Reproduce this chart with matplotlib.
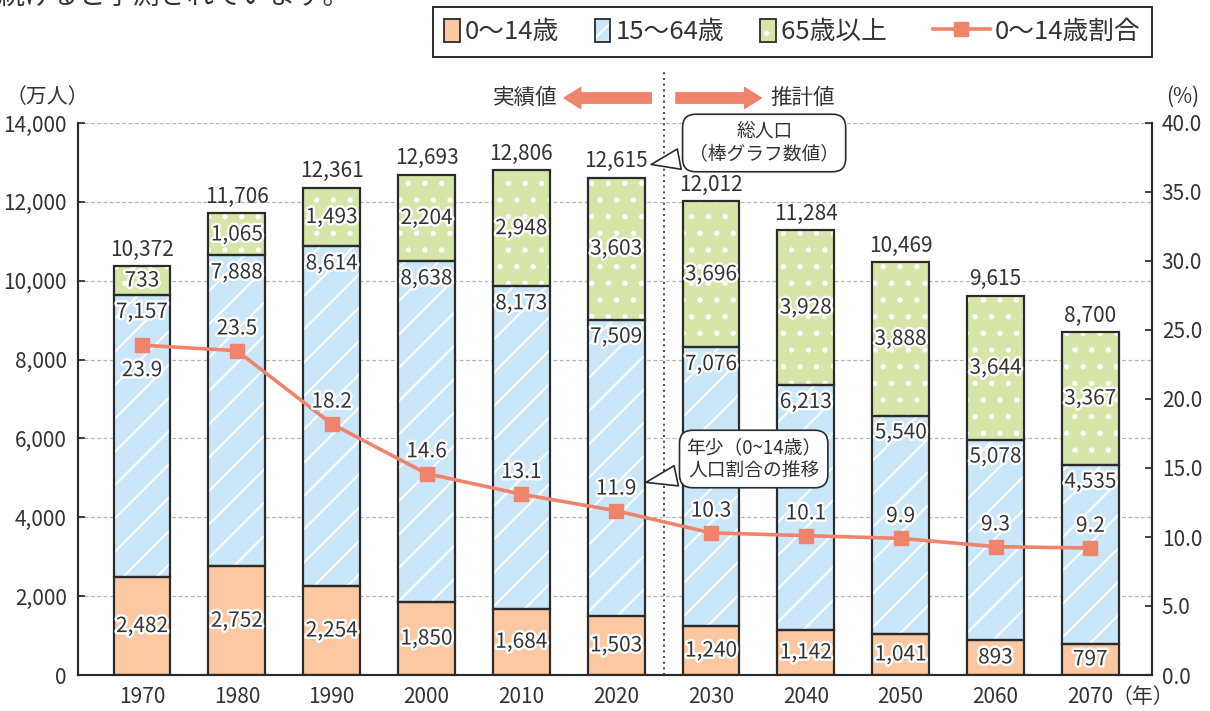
import numpy as np
import matplotlib
matplotlib.use("Agg")
import matplotlib.pyplot as plt
import matplotlib.patheffects as pe
from matplotlib.patches import Rectangle
from matplotlib.lines import Line2D
from matplotlib.legend_handler import HandlerBase

# =====================================================
# DATA
# =====================================================

years = ["1970", "1980", "1990", "2000", "2010", "2020",
         "2030", "2040", "2050", "2060", "2070"]

young = [2482, 2752, 2254, 1850, 1684, 1503, 1240, 1142, 1041, 893, 797]
working = [7157, 7888, 8614, 8638, 8173, 7509, 7076, 6213, 5540, 5078, 4535]
old = [733, 1065, 1493, 2204, 2948, 3603, 3696, 3928, 3888, 3644, 3367]
total = [10372, 11706, 12361, 12693, 12806, 12615, 12012, 11284, 10469, 9615, 8700]
young_ratio = [23.9, 23.5, 18.2, 14.6, 13.1, 11.9, 10.3, 10.1, 9.9, 9.3, 9.2]

labels = ["0～14歳", "15～64歳", "65歳以上\u3000\u3000", "0～14歳割合"]

# =====================================================
# STYLE
# =====================================================

plt.rcParams['font.family'] = ['Noto Sans CJK JP', 'DejaVu Sans']
plt.rcParams['hatch.color'] = 'white'
plt.rcParams['hatch.linewidth'] = 1.4

TEXT = "#333333"
EDGE = "#2b2b2b"
C_YOUNG = "#fbc8a2"
C_WORK = "#c9e7f8"
C_OLD = "#d5e6a8"
C_LINE = "#ef836c"
FS = 15

halo = [pe.withStroke(linewidth=3.5, foreground="white")]

fig = plt.figure(figsize=(12.1, 7.11), dpi=100)
ax = fig.add_axes([78 / 1210, 36 / 711, 1074 / 1210, 552 / 711])
ax2 = ax.twinx()

x = np.arange(len(years))
young = np.array(young)
working = np.array(working)
old = np.array(old)
width = 0.6


def thick_dots(artist, lw=3.4):
    # draw the small filled hatch dots with a thick stroke so they grow
    orig_draw = artist.draw

    def draw(renderer):
        with plt.rc_context({'hatch.linewidth': lw}):
            orig_draw(renderer)
    artist.draw = draw


# =====================================================
# BARS (fill + hatch, then outline)
# =====================================================

ax.bar(x, young, width, color=C_YOUNG, linewidth=0, zorder=2)
ax.bar(x, working, width, bottom=young, color=C_WORK, hatch="/",
       linewidth=0, zorder=2)
old_bars = ax.bar(x, old, width, bottom=young + working, color=C_OLD,
                  hatch=".", linewidth=0, zorder=2)
for b in old_bars:
    thick_dots(b)

for vals, bottoms in [(young, 0), (working, young), (old, young + working)]:
    ax.bar(x, vals, width, bottom=bottoms, fill=False, edgecolor=EDGE,
           linewidth=1.6, zorder=3)

# segment labels
for i in range(len(years)):
    ax.text(x[i], young[i] / 2, f"{young[i]:,}", ha="center", va="center",
            fontsize=FS, color=TEXT, path_effects=halo, zorder=4)
    ax.text(x[i], young[i] + working[i] - 430, f"{working[i]:,}",
            ha="center", va="center", fontsize=FS, color=TEXT,
            path_effects=halo, zorder=4)
    ax.text(x[i], young[i] + working[i] + old[i] / 2, f"{old[i]:,}",
            ha="center", va="center", fontsize=FS, color=TEXT,
            path_effects=halo, zorder=4)
    ax.annotate(f"{total[i]:,}", (x[i], young[i] + working[i] + old[i]),
                xytext=(0, 4), textcoords="offset points", ha="center",
                va="bottom", fontsize=FS, color=TEXT, zorder=4)

# =====================================================
# AXES
# =====================================================

ax.set_xlim(-0.675, 10.65)
ax.set_ylim(0, 14000)
ax.set_yticks(range(0, 14001, 2000))
ax.set_yticklabels([f"{v:,}" for v in range(0, 14001, 2000)])
ax.set_xticks(x)
ax.set_xticklabels(years)
ax.grid(axis="y", color="#b5b5b5", linestyle=(0, (3, 2)), linewidth=0.9,
        zorder=0)
ax.set_axisbelow(True)
ax.tick_params(axis="y", direction="in", length=5, width=1.3, pad=8,
               labelsize=FS, colors=TEXT)
ax.tick_params(axis="x", length=0, pad=8, labelsize=FS, colors=TEXT)

ax2.set_ylim(0, 40)
ax2.set_yticks(np.arange(0, 40.1, 5))
ax2.set_yticklabels([f"{v:.1f}" for v in np.arange(0, 40.1, 5)])
ax2.tick_params(axis="y", direction="in", length=5, width=1.3, pad=7,
                labelsize=FS, colors=TEXT)

for a in (ax, ax2):
    a.spines["top"].set_visible(False)
    for s in ("left", "right", "bottom"):
        a.spines[s].set_color(EDGE)
        a.spines[s].set_linewidth(1.5)

# =====================================================
# RATIO LINE
# =====================================================

line, = ax2.plot(x, young_ratio, color=C_LINE, linewidth=2.6, marker="s",
                 markersize=10, zorder=5)
for i, v in enumerate(young_ratio):
    dy = -18 if i == 0 else 16
    ax2.annotate(f"{v}", (x[i], v), xytext=(0, dy), textcoords="offset points",
                 ha="center", va="center", fontsize=FS, color=TEXT,
                 path_effects=halo, zorder=6)

# =====================================================
# ANNOTATIONS
# =====================================================

ax.axvline(5.5, ymin=0, ymax=1.092, color=EDGE, linestyle=(0, (1.2, 2.2)),
           linewidth=1.2, clip_on=False, zorder=1)

arrow_style = "simple,head_length=0.8,head_width=1.0,tail_width=0.5"
ax.annotate("", xy=(4.45, 14634), xytext=(5.37, 14634),
            arrowprops=dict(arrowstyle=arrow_style, color=C_LINE,
                            mutation_scale=15, shrinkA=0, shrinkB=0),
            annotation_clip=False)
ax.annotate("", xy=(6.53, 14634), xytext=(5.63, 14634),
            arrowprops=dict(arrowstyle=arrow_style, color=C_LINE,
                            mutation_scale=15, shrinkA=0, shrinkB=0),
            annotation_clip=False)
ax.text(4.38, 14634, "実績値", ha="right", va="center", fontsize=15.5,
        color=TEXT, clip_on=False)
ax.text(6.63, 14634, "推計値", ha="left", va="center", fontsize=15.5,
        color=TEXT, clip_on=False)

bubble = dict(boxstyle="round,pad=0.35,rounding_size=0.7", fc="white",
              ec=EDGE, lw=1.2)
wedge = dict(arrowstyle="wedge,tail_width=1.1,shrink_factor=0.5",
             fc="white", ec=EDGE, lw=1.2)
ax.annotate("総人口\n（棒グラフ数値）", xy=(5.34, 12935), xytext=(6.56, 13493),
            ha="center", va="center", ma="center", fontsize=13.5, color=TEXT,
            linespacing=1.15, bbox=bubble, arrowprops=wedge, zorder=7,
            annotation_clip=False)
ax.annotate("年少（0~14歳）\n人口割合の推移", xy=(5.285, 4870),
            xytext=(6.45, 5478), ha="center", va="center", ma="center",
            fontsize=13.5, color=TEXT, linespacing=1.15, bbox=bubble,
            arrowprops=wedge, zorder=7)

# axis unit labels
fig.text(6 / 1210, 1 - 97 / 711, "（万人）", ha="left", va="center",
         fontsize=FS, color=TEXT)
fig.text(1166 / 1210, 1 - 97 / 711, "(%)", ha="left", va="center",
         fontsize=FS, color=TEXT)
ax.text(10.55, -0.04, "（年）", transform=ax.get_xaxis_transform(),
        ha="center", va="center", fontsize=FS, color=TEXT)

# clipped sentence at the very top
fig.text(-3 / 1210, 1 - 5 / 711, "続けると予測されています。", ha="left",
         va="baseline", fontsize=19.5, color=TEXT)

# =====================================================
# LEGEND
# =====================================================


class Swatch:
    def __init__(self, face, hatch):
        self.face = face
        self.hatch = hatch


class SwatchHandler(HandlerBase):
    def create_artists(self, legend, orig_handle, xdescent, ydescent,
                       width, height, fontsize, trans):
        r1 = Rectangle((-xdescent, -ydescent), width, height,
                       facecolor=orig_handle.face, hatch=orig_handle.hatch,
                       linewidth=0, transform=trans)
        if orig_handle.hatch == ".":
            thick_dots(r1)
        r2 = Rectangle((-xdescent, -ydescent), width, height, fill=False,
                       edgecolor=EDGE, linewidth=1.3, transform=trans)
        return [r1, r2]


class LongLineHandler(HandlerBase):
    # line sample longer than the narrow swatches, reaching to the left
    def create_artists(self, legend, orig_handle, xdescent, ydescent,
                       width, height, fontsize, trans):
        x1 = width - xdescent
        x0 = x1 - 41
        y = (height - ydescent) / 2
        seg = Line2D([x0, x1], [y, y], color=orig_handle.get_color(),
                     linewidth=orig_handle.get_linewidth(), transform=trans)
        mk = Line2D([(x0 + x1) / 2], [y], color=orig_handle.get_color(),
                    marker="s", markersize=10, linestyle="none",
                    transform=trans)
        return [seg, mk]


handles = [Swatch(C_YOUNG, ""), Swatch(C_WORK, "/"), Swatch(C_OLD, "."), line]
leg = ax2.legend(handles, labels,
                 handler_map={Swatch: SwatchHandler(), line: LongLineHandler()},
                 loc="upper right", bbox_to_anchor=(1152 / 1210, 1 - 7 / 711),
                 bbox_transform=fig.transFigure, ncol=4, fontsize=18.5,
                 frameon=True, fancybox=False, edgecolor=EDGE, framealpha=1,
                 borderaxespad=0, handlelength=0.6, handleheight=1.05,
                 handletextpad=0.2, columnspacing=1.4, numpoints=1,
                 borderpad=0.45, labelcolor=TEXT)
leg.get_frame().set_linewidth(1.4)

fig.savefig("out.png", dpi=100)
